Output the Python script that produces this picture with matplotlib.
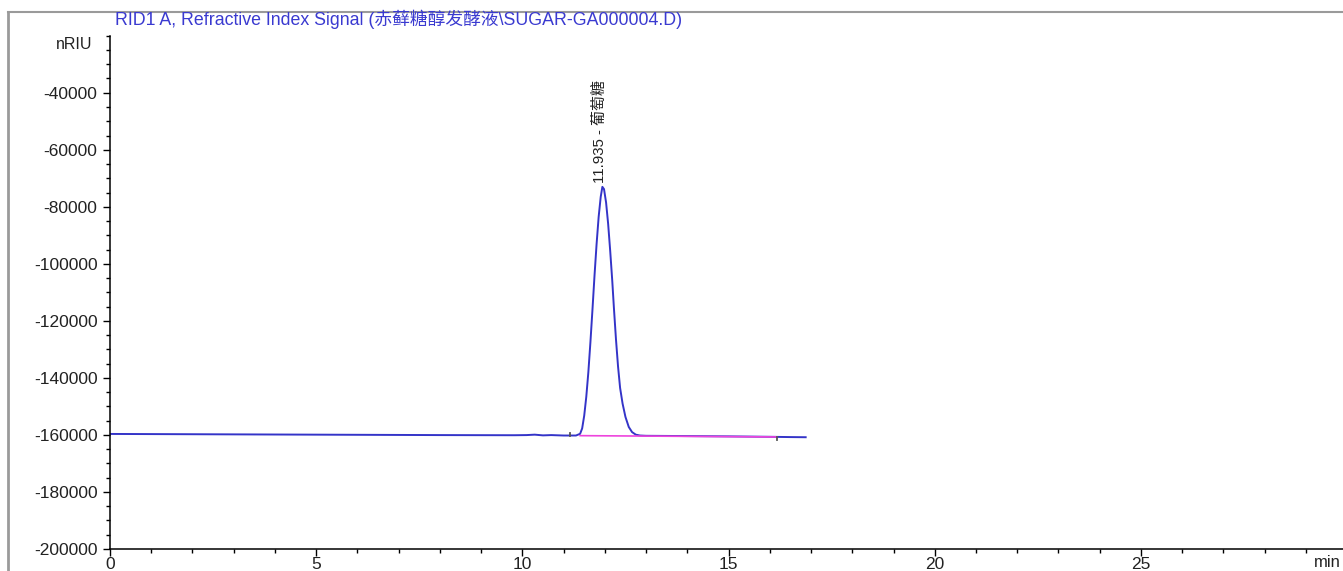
import matplotlib.pyplot as plt
from matplotlib.lines import Line2D
from matplotlib.ticker import MultipleLocator

plt.rcParams['font.family'] = ['Liberation Sans', 'Noto Sans CJK SC', 'DejaVu Sans']

# RID trace
time = [0, 1, 2, 3, 4, 5, 6, 7, 8, 9, 9.8, 10.1, 10.3, 10.5, 10.7, 11.0, 11.2, 11.3,
        11.4, 11.45, 11.5, 11.55, 11.6, 11.65, 11.7, 11.75, 11.8, 11.85, 11.9, 11.94,
        11.98, 12.03, 12.08, 12.13, 12.18, 12.22, 12.27, 12.32, 12.37, 12.43, 12.5,
        12.58, 12.66, 12.75, 12.85, 13.0, 13.5, 14, 15, 16, 16.5, 16.87]
signal = [-159650, -159700, -159750, -159800, -159850, -159900, -159950, -160000,
          -160050, -160080, -160100, -160050, -159900, -160150, -160050, -160200,
          -160200, -160200,
          -159600, -157700, -153200, -146600, -138000, -127500, -116000, -104000,
          -93000, -83500, -76500, -73000,
          -73800, -78500, -86000, -95500, -106000, -115500, -126500, -136000,
          -143500, -149000, -153700,
          -157200, -159000, -159900, -160200, -160300, -160350, -160400, -160500,
          -160650, -160750, -160800]

# integration baseline and event marks
baseline_time = [11.4, 16.17]
baseline_signal = [-160250, -160700]
event_time = [11.15, 16.17]
event_top = [-159200, -160700]
event_bottom = [-160200, -161800]

peak_rt = 11.935
peak_height = -73000
peak_name = "葡萄糖"

yticks = [-40000, -60000, -80000, -100000, -120000, -140000, -160000, -180000, -200000]
xticks = [0, 5, 10, 15, 20, 25]

trace_color = "#3434c8"

fig = plt.figure(figsize=(13.43, 5.71), dpi=100)
ax = fig.add_axes([0.0819, 0.0385, 0.9181, 0.899])

ax.plot(time, signal, color=trace_color, linewidth=1.4)
ax.plot(baseline_time, baseline_signal, color="#ee44dd", linewidth=1.2)
for t, a, b in zip(event_time, event_top, event_bottom):
    ax.plot([t, t], [a, b], color="#555555", linewidth=1.3)

ax.text(peak_rt - 0.06, peak_height + 1300, f"{peak_rt:.3f} - {peak_name}",
        rotation=90, ha="center", va="bottom", fontsize=10.8, color="#222222")

ax.set_xlim(0, 29.9)
ax.set_ylim(-200000, -20000)
ax.set_xticks(xticks)
ax.set_yticks(yticks)
ax.set_yticklabels([str(v) for v in yticks])
ax.xaxis.set_minor_locator(MultipleLocator(1))
ax.yaxis.set_minor_locator(MultipleLocator(5000))
ax.tick_params(axis="both", which="major", direction="out", length=5, width=1,
               labelsize=12.5, colors="black", labelcolor="#222222")
ax.tick_params(axis="both", which="minor", direction="out", length=3, width=1)
ax.tick_params(axis="x", pad=0.5)
ax.tick_params(axis="y", pad=4)

for side in ["top", "right"]:
    ax.spines[side].set_visible(False)
for side in ["left", "bottom"]:
    ax.spines[side].set_linewidth(1.1)

ax.text(-0.42, -23000, "nRIU", ha="right", va="center", fontsize=11.5, color="#222222",
        clip_on=False)
ax.text(29.2, -202000, "min", ha="left", va="top", fontsize=12, color="#222222",
        clip_on=False)

fig.text(0.0856, 0.966, "RID1 A, Refractive Index Signal (赤藓糖醇发酵液\\SUGAR-GA000004.D)",
         ha="left", va="center", fontsize=12.8, color="#3a3ad0")

# gray report frame
fig.add_artist(Line2D([0.006, 1.0], [0.979, 0.979], color="#9a9a9a", linewidth=1.5))
fig.add_artist(Line2D([0.006, 0.006], [0.0, 0.979], color="#9a9a9a", linewidth=2))

fig.savefig("out.png", dpi=100)
